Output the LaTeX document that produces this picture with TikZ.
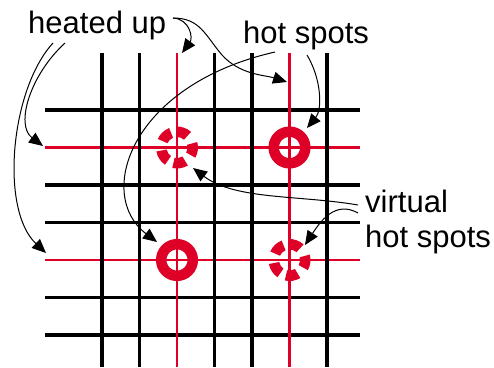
\documentclass[tikz,border=0pt]{standalone}
\usepackage{fontspec}
\setmainfont{Liberation Sans}
\usetikzlibrary{arrows.meta}
\definecolor{hotred}{RGB}{222,0,38}

\begin{document}
\begin{tikzpicture}[x=1pt,y=-1pt,
  gridline/.style={line width=3.2pt},
  hotline/.style={hotred,line width=2.8pt},
  notetext/.style={font=\fontsize{31}{36}\selectfont,inner sep=0pt,anchor=base west},
  pointer/.style={line width=1pt,-{Triangle[length=14pt,width=12pt]}},
  ring/.style={hotred,line width=10.5pt},
]
\useasboundingbox (0,0) rectangle (494,367);

% wire grid: rows first, then columns on top
\foreach \y in {110,185,222.5,297.5,335}
  \draw[gridline] (45,\y) -- (360,\y);
\foreach \y in {147.5,260}
  \draw[hotline] (45,\y) -- (360,\y);
\foreach \x in {102,139.5,214.5,252,327}
  \draw[gridline] (\x,53) -- (\x,367);
\foreach \x in {177,289.5}
  \draw[hotline] (\x,53) -- (\x,367);

% spot centres
\coordinate (hs1) at (289.5,147.5);
\coordinate (hs2) at (177,260);
\coordinate (vs1) at (177,147.5);
\coordinate (vs2) at (289.5,260);

% real hot spots: solid rings
\draw[ring] (hs1) circle[radius=15.8pt];
\draw[ring] (hs2) circle[radius=15.8pt];

% virtual hot spots: broken rings of five sectors
\foreach \c in {vs1,vs2}
  \foreach \t in {134,70,-7,-81,213}
    \fill[hotred] ([shift={(\t-22:21pt)}]\c) arc[start angle=\t-22,end angle=\t+22,radius=21pt]
      -- ([shift={(\t+22:10.5pt)}]\c) arc[start angle=\t+22,end angle=\t-22,radius=10.5pt] -- cycle;

% labels
\node[notetext] (heat) at (28,33) {heated up};
\node[notetext] (hot) at (243,43) {hot spots};
\node[notetext] (virt) at (365,212) {virtual};
\node[notetext] (virthot) at (365,247) {hot spots};

% pointer ends
\coordinate (heatA) at (53,43);
\coordinate (heatB) at (65,43);
\coordinate (heatC) at (173,18);
\coordinate (hotA) at (275,52);
\coordinate (hotB) at (307,55);
\coordinate (virtA) at (358,205);
\coordinate (virtB) at (358,213);
\coordinate (rowlow) at (46,253);
\coordinate (rowhigh) at (43,146);
\coordinate (coltop) at (182,53);
\coordinate (colright) at (287,82);
\coordinate (ringlow) at (157,242);
\coordinate (ringhigh) at (307,128);
\coordinate (vsA) at (193,168);
\coordinate (vsB) at (305,245);

% pointers
\draw[pointer] (heatA) .. controls (10,90) and (0,210) .. (rowlow);
\draw[pointer] (heatB) .. controls (30,75) and (15,125) .. (rowhigh);
\draw[pointer] (heatC) .. controls (190,19) and (193,38) .. (coltop);
\draw[pointer] (heatC) .. controls (200,18) and (205,35) .. (222,55)
  .. controls (240,75) and (265,75) .. (colright);
\draw[pointer] (hotA) .. controls (130,85) and (95,195) .. (ringlow);
\draw[pointer] (hotB) .. controls (322,80) and (322,110) .. (ringhigh);
\draw[pointer] (virtA) .. controls (300,195) and (235,200) .. (vsA);
\draw[pointer] (virtB) .. controls (335,200) and (320,222) .. (vsB);
\end{tikzpicture}
\end{document}
